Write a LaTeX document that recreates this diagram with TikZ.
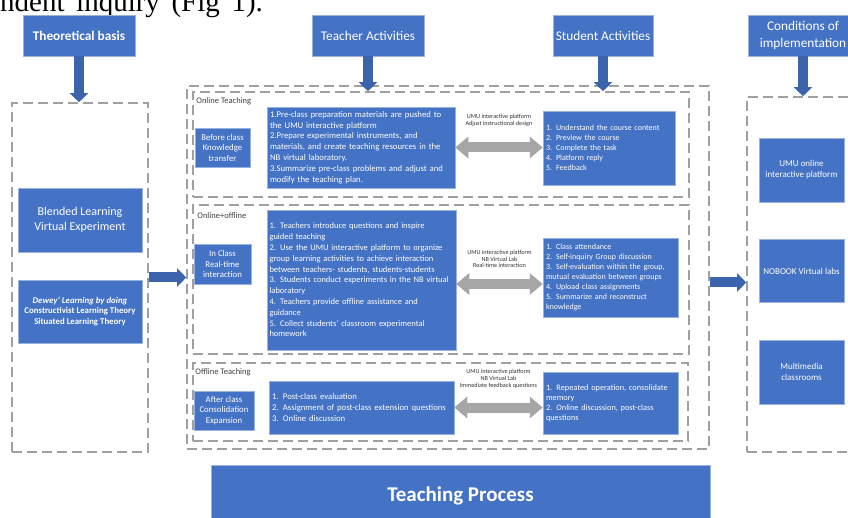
\documentclass[tikz,border=0pt]{standalone}
\usepackage{fontspec}
\setmainfont{Carlito}
\newfontfamily\bodyfont{Liberation Serif}
\usepackage{xcolor}
\usepackage{tikz}
\usetikzlibrary{arrows.meta,positioning}
\definecolor{boxblue}{HTML}{4472C4}
\definecolor{arrowblue}{HTML}{3B64AD}
\definecolor{dashgray}{HTML}{A0A0A0}
\definecolor{linkgray}{HTML}{A6A6A6}
\def\fs#1#2{\fontsize{#1}{#2}\selectfont}
\tikzset{%
  block/.style    = {fill=boxblue, draw=boxblue!55!white, line width=0.5pt,
    text=white, inner sep=3pt},
  header/.style   = {block, minimum height=41pt, align=center, font=\fs{13.3}{17}},
  side/.style     = {block, align=center, font=\fs{8.8}{10.5}}, % section blocks
  task/.style     = {block, align=left, font=\fs{8.7}{10.8}}, % activity lists
  area/.style     = {draw=dashgray, line width=1.6pt, dash pattern=on 10pt off 5pt,
    inner sep=0pt}, % dashed frames
  tag/.style      = {anchor=west, inner sep=1pt, text=black!75, font=\fs{8.5}{9}},
  via/.style      = {align=center, inner sep=1pt, text=black!80, font=\fs{6.2}{6.8}},
  flow/.style     = {draw=arrowblue, line width=10pt, -{Triangle[width=18pt,length=9pt]}},
  twoway/.style   = {draw=linkgray, line width=10pt,
    {Triangle[width=21pt,length=13pt]}-{Triangle[width=21pt,length=13pt]}}
}

\begin{document}
\begin{tikzpicture}[x=1pt, y=-1pt]
  \useasboundingbox (0,0) rectangle (848,518);
  % line of the page text above the figure
  \node[anchor=base west, inner sep=0pt, font=\bodyfont\fs{29}{32}] (pagetext) at (0,11.7)
    {\spaceskip=0.4em\relax ndent inquiry (Fig 1).};

  % headers
  \node[header, minimum width=112pt, font=\fs{13.3}{16}\bfseries] (basis) at (79,35.5) {Theoretical basis};
  \node[header, minimum width=112pt] (teacher) at (368,35.5) {Teacher Activities};
  \node[header, minimum width=100pt] (student) at (603,35.5) {Student Activities};
  \node[header, minimum width=110pt] (conditions) at (803,35.5) {Conditions of\\implementation};

  % dashed frames
  \node[area, minimum width=136pt, minimum height=349pt] (theory) at (80,277.5) {};
  \node[area, minimum width=522pt, minimum height=363pt] (process) at (448,267.5) {};
  \node[area, minimum width=113pt, minimum height=355pt] (means) at (803.5,274.5) {};
  \node[area, minimum width=496pt, minimum height=105pt] (online) at (441,144.5) {};
  \node[area, minimum width=496pt, minimum height=149pt] (mixed) at (441,279.5) {};
  \node[area, minimum width=495pt, minimum height=78pt] (offline) at (440.5,402) {};

  \node[tag, below right=5pt and 3pt of online.north west] (tagon) {Online Teaching};
  \node[tag, below right=7pt and 4pt of mixed.north west] (tagmix) {Online+offline};
  \node[tag, below right=5pt and 2pt of offline.north west] (tagoff) {Offline Teaching};

  % theoretical basis
  \node[block, align=center, minimum width=124pt, minimum height=64pt, font=\fs{12}{14.5}]
    (blended) at (80,220) {Blended Learning\\Virtual Experiment};
  \node[block, align=center, minimum width=124pt, minimum height=63pt, font=\fs{8.8}{10.8}\bfseries]
    (dewey) at (80,311.5) {\textit{Dewey' Learning by doing}\\Constructivist Learning Theory\\Situated Learning Theory};

  % teaching process
  \node[side, minimum width=55pt, minimum height=39pt] (before) at (222.5,147.5) {Before class\\Knowledge\\transfer};
  \node[side, minimum width=57pt, minimum height=40pt] (inclass) at (222.5,264) {In Class\\Real-time\\interaction};
  \node[side, minimum width=60pt, minimum height=39pt] (after) at (224,410.5) {After class\\Consolidation\\Expansion};

  \node[task, text width=182pt, minimum height=81pt] (tpre) at (361,147.5)
    {1.Pre-class preparation materials are pushed to\\
     the UMU interactive platform\\
     2.Prepare experimental instruments, and\\
     materials, and create teaching resources in the\\
     NB virtual laboratory.\\
     3.Summarize pre-class problems and adjust and\\
     modify the teaching plan.};
  \node[task, text width=184pt, inner sep=2.5pt, minimum height=140pt, font=\fs{8.5}{10.8}] (tin) at (361.5,280)
    {1. Teachers introduce questions and inspire\\
     guided teaching\\
     2. Use the UMU interactive platform to organize\\
     group learning activities to achieve interaction\\
     between teachers- students, students-students\\
     3. Students conduct experiments in the NB virtual\\
     laboratory\\
     4. Teachers provide offline assistance and\\
     guidance\\
     5. Collect students' classroom experimental\\
     homework};
  \node[task, text width=179pt, minimum height=53pt] (tpost) at (361.5,407.5)
    {1. Post-class evaluation\\
     2. Assignment of post-class extension questions\\
     3. Online discussion};

  \node[task, text width=126pt, minimum height=74pt, font=\fs{8}{10}] (spre) at (609,148)
    {1. Understand the course content\\
     2. Preview the course\\
     3. Complete the task\\
     4. Platform reply\\
     5. Feedback};
  \node[task, text width=129pt, minimum height=79pt, font=\fs{8}{10}] (sin) at (610.5,277.5)
    {1. Class attendance\\
     2. Self-inquiry Group discussion\\
     3. Self-evaluation within the group,\\
     mutual evaluation between groups\\
     4. Upload class assignments\\
     5. Summarize and reconstruct\\
     knowledge};
  \node[task, text width=129pt, minimum height=62pt, font=\fs{8.3}{10}] (spost) at (610.5,403)
    {1. Repeated operation, consolidate\\
     memory\\
     2. Online discussion, post-class\\
     questions};

  % conditions of implementation
  \node[block, align=center, minimum width=85pt, minimum height=64pt, font=\fs{9}{11}]
    (umu) at (801.5,170) {UMU online\\interactive platform};
  \node[block, align=center, minimum width=85pt, minimum height=63pt, font=\fs{9}{11},
    below=37pt of umu] (nobook) {NOBOOK Virtual labs};
  \node[block, align=center, minimum width=85pt, minimum height=64pt, font=\fs{9}{11},
    below=37pt of nobook] (media) {Multimedia\\classrooms};

  \node[block, minimum width=499pt, minimum height=62pt, font=\fs{21}{24}\bfseries]
    (teaching) at (460.5,496) {Teaching Process};

  % arrows
  \draw[flow] (basis.south) -- (basis.south |- theory.north);
  \draw[flow] (teacher.south) -- (teacher.south |- online.north);
  \draw[flow] (student.south) -- (student.south |- online.north);
  \draw[flow] (conditions.south) -- (conditions.south |- means.north);
  \draw[flow] (theory.east) -- (theory.east -| process.west);
  \draw[flow] ([yshift=-15pt]process.east) -- ([yshift=-15pt]process.east -| means.west);

  \draw[twoway] (tpre.east) -- node[via, above=15pt] {UMU interactive platform\\Adjust instructional design}
    (tpre.east -| spre.west);
  \draw[twoway] ([yshift=-4pt]tin.east) -- node[via, above=10pt] {UMU interactive platform\\NB Virtual Lab\\Real-time interaction}
    ([yshift=-4pt]tin.east -| sin.west);
  \draw[twoway] (tpost.east) -- node[via, above=13pt] {UMU interactive platform\\NB Virtual Lab\\Immediate feedback questions}
    (tpost.east -| spost.west);
\end{tikzpicture}
\end{document}
